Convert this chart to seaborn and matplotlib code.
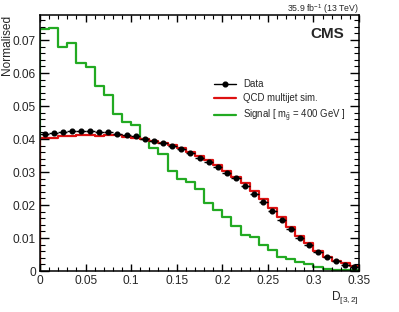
import numpy as np
import pandas as pd
import seaborn as sns
import matplotlib.pyplot as plt
from matplotlib.lines import Line2D
from matplotlib.ticker import MultipleLocator, FixedLocator, FixedFormatter

# bin edges of D_[3,2]
edges = np.round(np.arange(0, 0.3501, 0.01), 3)
centers = (edges[:-1] + edges[1:]) / 2

data_vals = [0.0415, 0.0419, 0.0422, 0.0423, 0.0423, 0.0423, 0.0422, 0.0420, 0.0416, 0.0413,
             0.0408, 0.0401, 0.0395, 0.0387, 0.0379, 0.0369, 0.0357, 0.0344, 0.0331, 0.0315,
             0.0298, 0.0281, 0.0259, 0.0233, 0.0208, 0.0183, 0.0155, 0.0127, 0.0101, 0.0079,
             0.0059, 0.0041, 0.0029, 0.0019, 0.0013]
qcd_vals = [0.0403, 0.0404, 0.0408, 0.0408, 0.0411, 0.0412, 0.0410, 0.0413, 0.0411, 0.0405,
            0.0402, 0.0399, 0.0395, 0.0388, 0.0382, 0.0372, 0.0362, 0.0348, 0.0336, 0.0321,
            0.0304, 0.0286, 0.0266, 0.0243, 0.0217, 0.0190, 0.0165, 0.0134, 0.0106, 0.0084,
            0.0061, 0.0043, 0.0031, 0.0023, 0.0016]
signal_vals = [0.0733, 0.0738, 0.0678, 0.0692, 0.0629, 0.0617, 0.0561, 0.0535, 0.0476, 0.0451,
               0.0442, 0.0400, 0.0374, 0.0354, 0.0304, 0.0278, 0.0271, 0.0248, 0.0205, 0.0185,
               0.0165, 0.0137, 0.0109, 0.0104, 0.0079, 0.0064, 0.0043, 0.0035, 0.0028, 0.0020,
               0.0011, 0.0006, 0.0004, 0.0003, 0.0002]

xticks = [0, 0.05, 0.1, 0.15, 0.2, 0.25, 0.3, 0.35]
xticklabels = ["0", "0.05", "0.1", "0.15", "0.2", "0.25", "0.3", "0.35"]
yticks = [0, 0.01, 0.02, 0.03, 0.04, 0.05, 0.06, 0.07]
yticklabels = ["0", "0.01", "0.02", "0.03", "0.04", "0.05", "0.06", "0.07"]

df = pd.DataFrame({"D": centers, "data": data_vals, "qcd": qcd_vals, "signal": signal_vals})

red = "#dd1111"
green = "#22aa22"

sns.set_style("ticks")
plt.rcParams["axes.axisbelow"] = False
plt.rcParams["font.family"] = ["Liberation Sans", "DejaVu Sans"]
plt.rcParams["mathtext.fontset"] = "custom"
plt.rcParams["mathtext.rm"] = "Liberation Sans"
plt.rcParams["mathtext.it"] = "Liberation Sans"
plt.rcParams["mathtext.bf"] = "Liberation Sans:bold"

fig = plt.figure(figsize=(3.99, 3.12), dpi=100)
ax = fig.add_axes([40 / 399, 1 - 271 / 312, 319 / 399, 256 / 312])

sns.histplot(data=df, x="D", weights="signal", bins=edges.tolist(), element="step", fill=False,
             color=green, linewidth=1.6, ax=ax)
sns.histplot(data=df, x="D", weights="qcd", bins=edges.tolist(), element="step", fill=False,
             color=red, linewidth=1.6, ax=ax)
# left edge of the histograms
ax.vlines(edges[0], 0, signal_vals[0], color=green, lw=1.6)
ax.vlines(edges[0], 0, qcd_vals[0], color=red, lw=1.6)

ax.errorbar(df["D"], df["data"], xerr=0.005, fmt="o", color="black", ms=3.4, lw=1, capsize=0)

ax.set_xlim(0, 0.35)
ax.set_ylim(0, 0.0776)
ax.set_xlabel("")
ax.set_ylabel("")

fig.text(13 / 399, 1 - 15 / 312, "Normalised", rotation=90, ha="right", va="top", fontsize=8.6)
fig.text(359 / 399, 1 - 300 / 312, r"D$_{[3,2]}$", ha="right", va="baseline", fontsize=8.6)
fig.text(359 / 399, 1 - 12 / 312, r"35.9 fb$^{-1}$ (13 TeV)", ha="right", va="baseline", fontsize=6.3)
fig.text(344 / 399, 1 - 38 / 312, "CMS", ha="right", va="baseline", fontsize=11, fontweight="bold")

handles = [
    Line2D([], [], color="black", marker="o", ms=3.4, lw=1),
    Line2D([], [], color=red, lw=1.6),
    Line2D([], [], color=green, lw=1.6),
]
labels = ["Data", "QCD multijet sim.", r"Signal [ m$_{\tilde{\mathrm{g}}}$ = 400 GeV ]"]
fig.legend(handles, labels, loc="upper left", bbox_to_anchor=(214 / 399, 1 - 79 / 312),
           frameon=False, fontsize=6.9, borderpad=0, borderaxespad=0, handlelength=2.3,
           handletextpad=0.7, labelspacing=0.45)

for s in ax.spines.values():
    s.set_linewidth(1.1)
    s.set_color("black")

# ROOT-like ticks: inside, on all four sides
ax.set_axisbelow(False)
ax.minorticks_on()
ax.xaxis.set_major_locator(FixedLocator(xticks))
ax.xaxis.set_major_formatter(FixedFormatter(xticklabels))
ax.yaxis.set_major_locator(FixedLocator(yticks))
ax.yaxis.set_major_formatter(FixedFormatter(yticklabels))
ax.xaxis.set_minor_locator(MultipleLocator(0.01))
ax.yaxis.set_minor_locator(MultipleLocator(0.002))
ax.tick_params(axis="x", which="major", direction="in", length=4.8, width=1.0,
               top=True, bottom=True, labelsize=8.6, pad=3)
ax.tick_params(axis="x", which="minor", direction="in", length=2.7, width=0.8,
               top=True, bottom=True)
ax.tick_params(axis="y", which="major", direction="in", length=6.5, width=1.0,
               left=True, right=True, labelsize=8.6, pad=3)
ax.tick_params(axis="y", which="minor", direction="in", length=3.4, width=0.8,
               left=True, right=True)
ax.tick_params(axis="both", which="both", color="black")

fig.savefig("out.png", dpi=100)
